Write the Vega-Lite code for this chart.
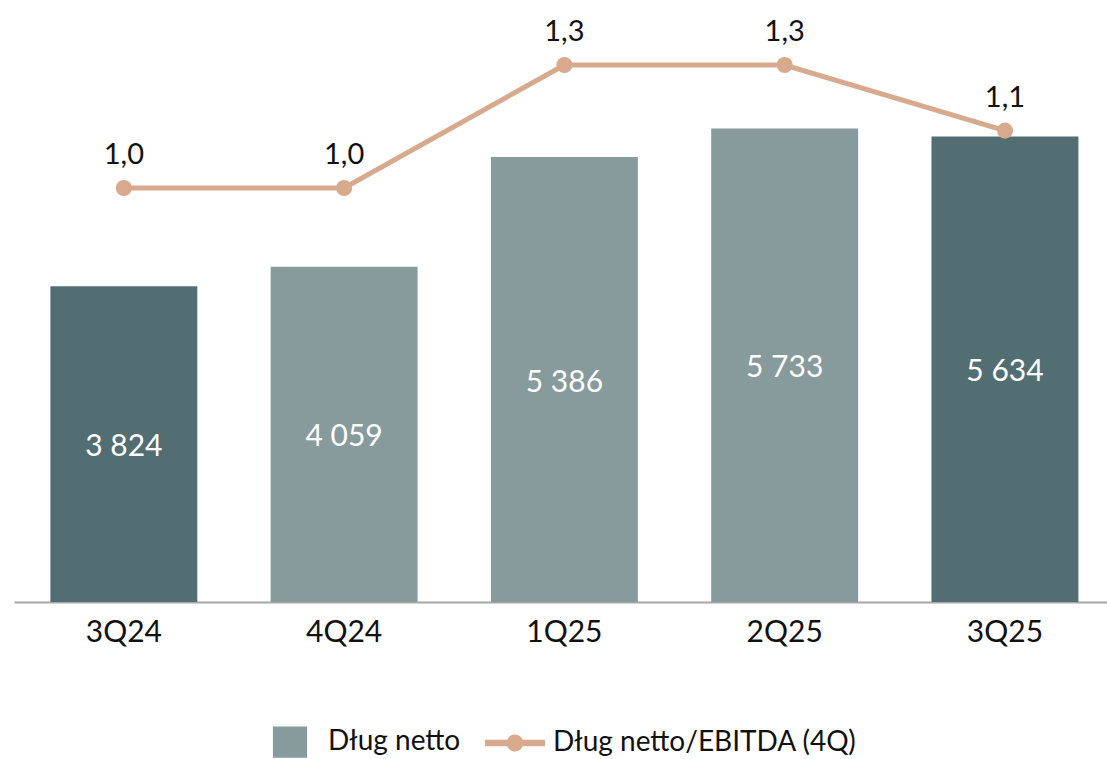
{
  "$schema": "https://vega.github.io/schema/vega-lite/v6.json",
  "width": 1093,
  "height": 602,
  "autosize": {"type": "none"},
  "padding": {"left": 14, "top": 0, "right": 0, "bottom": 157},
  "background": "white",
  "config": {
    "view": {"stroke": null},
    "font": "Lato",
    "locale": {"number": {"decimal": ",", "thousands": " ", "grouping": [3], "currency": ["", " zł"]}}
  },
  "data": {
    "values": [
      {"kw": "3Q24", "seria": "Dług netto", "dlug": 3824, "wskaznik": 0.97},
      {"kw": "4Q24", "seria": "Dług netto", "dlug": 4059, "wskaznik": 0.97},
      {"kw": "1Q25", "seria": "Dług netto", "dlug": 5386, "wskaznik": 1.27},
      {"kw": "2Q25", "seria": "Dług netto", "dlug": 5733, "wskaznik": 1.27},
      {"kw": "3Q25", "seria": "Dług netto", "dlug": 5634, "wskaznik": 1.11}
    ]
  },
  "resolve": {"scale": {"y": "independent"}},
  "layer": [
    {
      "mark": {"type": "bar"},
      "encoding": {
        "x": {
          "field": "kw", "type": "nominal", "sort": null,
          "scale": {"type": "band", "paddingInner": 0.333, "paddingOuter": 0.1475, "align": 0.56},
          "axis": {
            "title": null, "labelAngle": 0, "ticks": false,
            "domainColor": "#a6a6a6", "domainWidth": 2,
            "labelFontSize": 30, "labelColor": "#111111", "labelFont": "Lato",
            "labelPadding": 15
          }
        },
        "y": {"field": "dlug", "type": "quantitative", "scale": {"domain": [0, 7288]}, "axis": null},
        "color": {
          "condition": {"test": "datum.kw === '3Q24' || datum.kw === '3Q25'", "value": "#536e72"},
          "field": "seria", "type": "nominal",
          "scale": {"domain": ["Dług netto", "Dług netto/EBITDA (4Q)"], "range": ["#879a9c", "#d8aa8d"]},
          "legend": {
            "title": null, "orient": "none", "direction": "horizontal",
            "legendX": 246, "legendY": 712, "padding": 0,
            "symbolSize": 3600, "labelFontSize": 28, "labelColor": "#111111", "labelFont": "Lato",
            "labelOffset": 8, "columnPadding": 24, "labelLimit": 0,
            "encode": {
              "symbols": {
                "update": {
                  "shape": {"signal": "datum.value === 'Dług netto' ? 'M-0.57,-0.52H0.57V0.52H-0.57Z' : 'M-1,-0.11H1V0.11H-1Z M0.28,0 A0.28,0.28 0 1,1 -0.28,0 A0.28,0.28 0 1,1 0.28,0 Z'"},
                  "strokeWidth": {"value": 0},
                  "opacity": {"value": 1}
                }
              }
            }
          }
        }
      }
    },
    {
      "mark": {"type": "text", "color": "white", "fontSize": 30, "font": "Lato", "baseline": "middle", "dy": 3},
      "encoding": {
        "x": {"field": "kw", "type": "nominal", "sort": null},
        "y": {"field": "dlug", "type": "quantitative", "scale": {"domain": [0, 14576]}, "axis": null},
        "text": {"field": "dlug", "type": "quantitative", "format": ",.0f"}
      }
    },
    {
      "encoding": {
        "x": {"field": "kw", "type": "nominal", "sort": null},
        "y": {"field": "wskaznik", "type": "quantitative", "scale": {"domain": [-0.0398, 1.4285], "zero": false}, "axis": null}
      },
      "layer": [
        {"mark": {"type": "line", "color": "#d8aa8d", "strokeWidth": 5}},
        {"mark": {"type": "point", "filled": true, "color": "#d8aa8d", "size": 260, "opacity": 1}},
        {
          "mark": {"type": "text", "color": "#111111", "fontSize": 29, "font": "Lato", "baseline": "middle", "dy": -33},
          "encoding": {"text": {"field": "wskaznik", "type": "quantitative", "format": ".1f"}}
        }
      ]
    }
  ]
}
